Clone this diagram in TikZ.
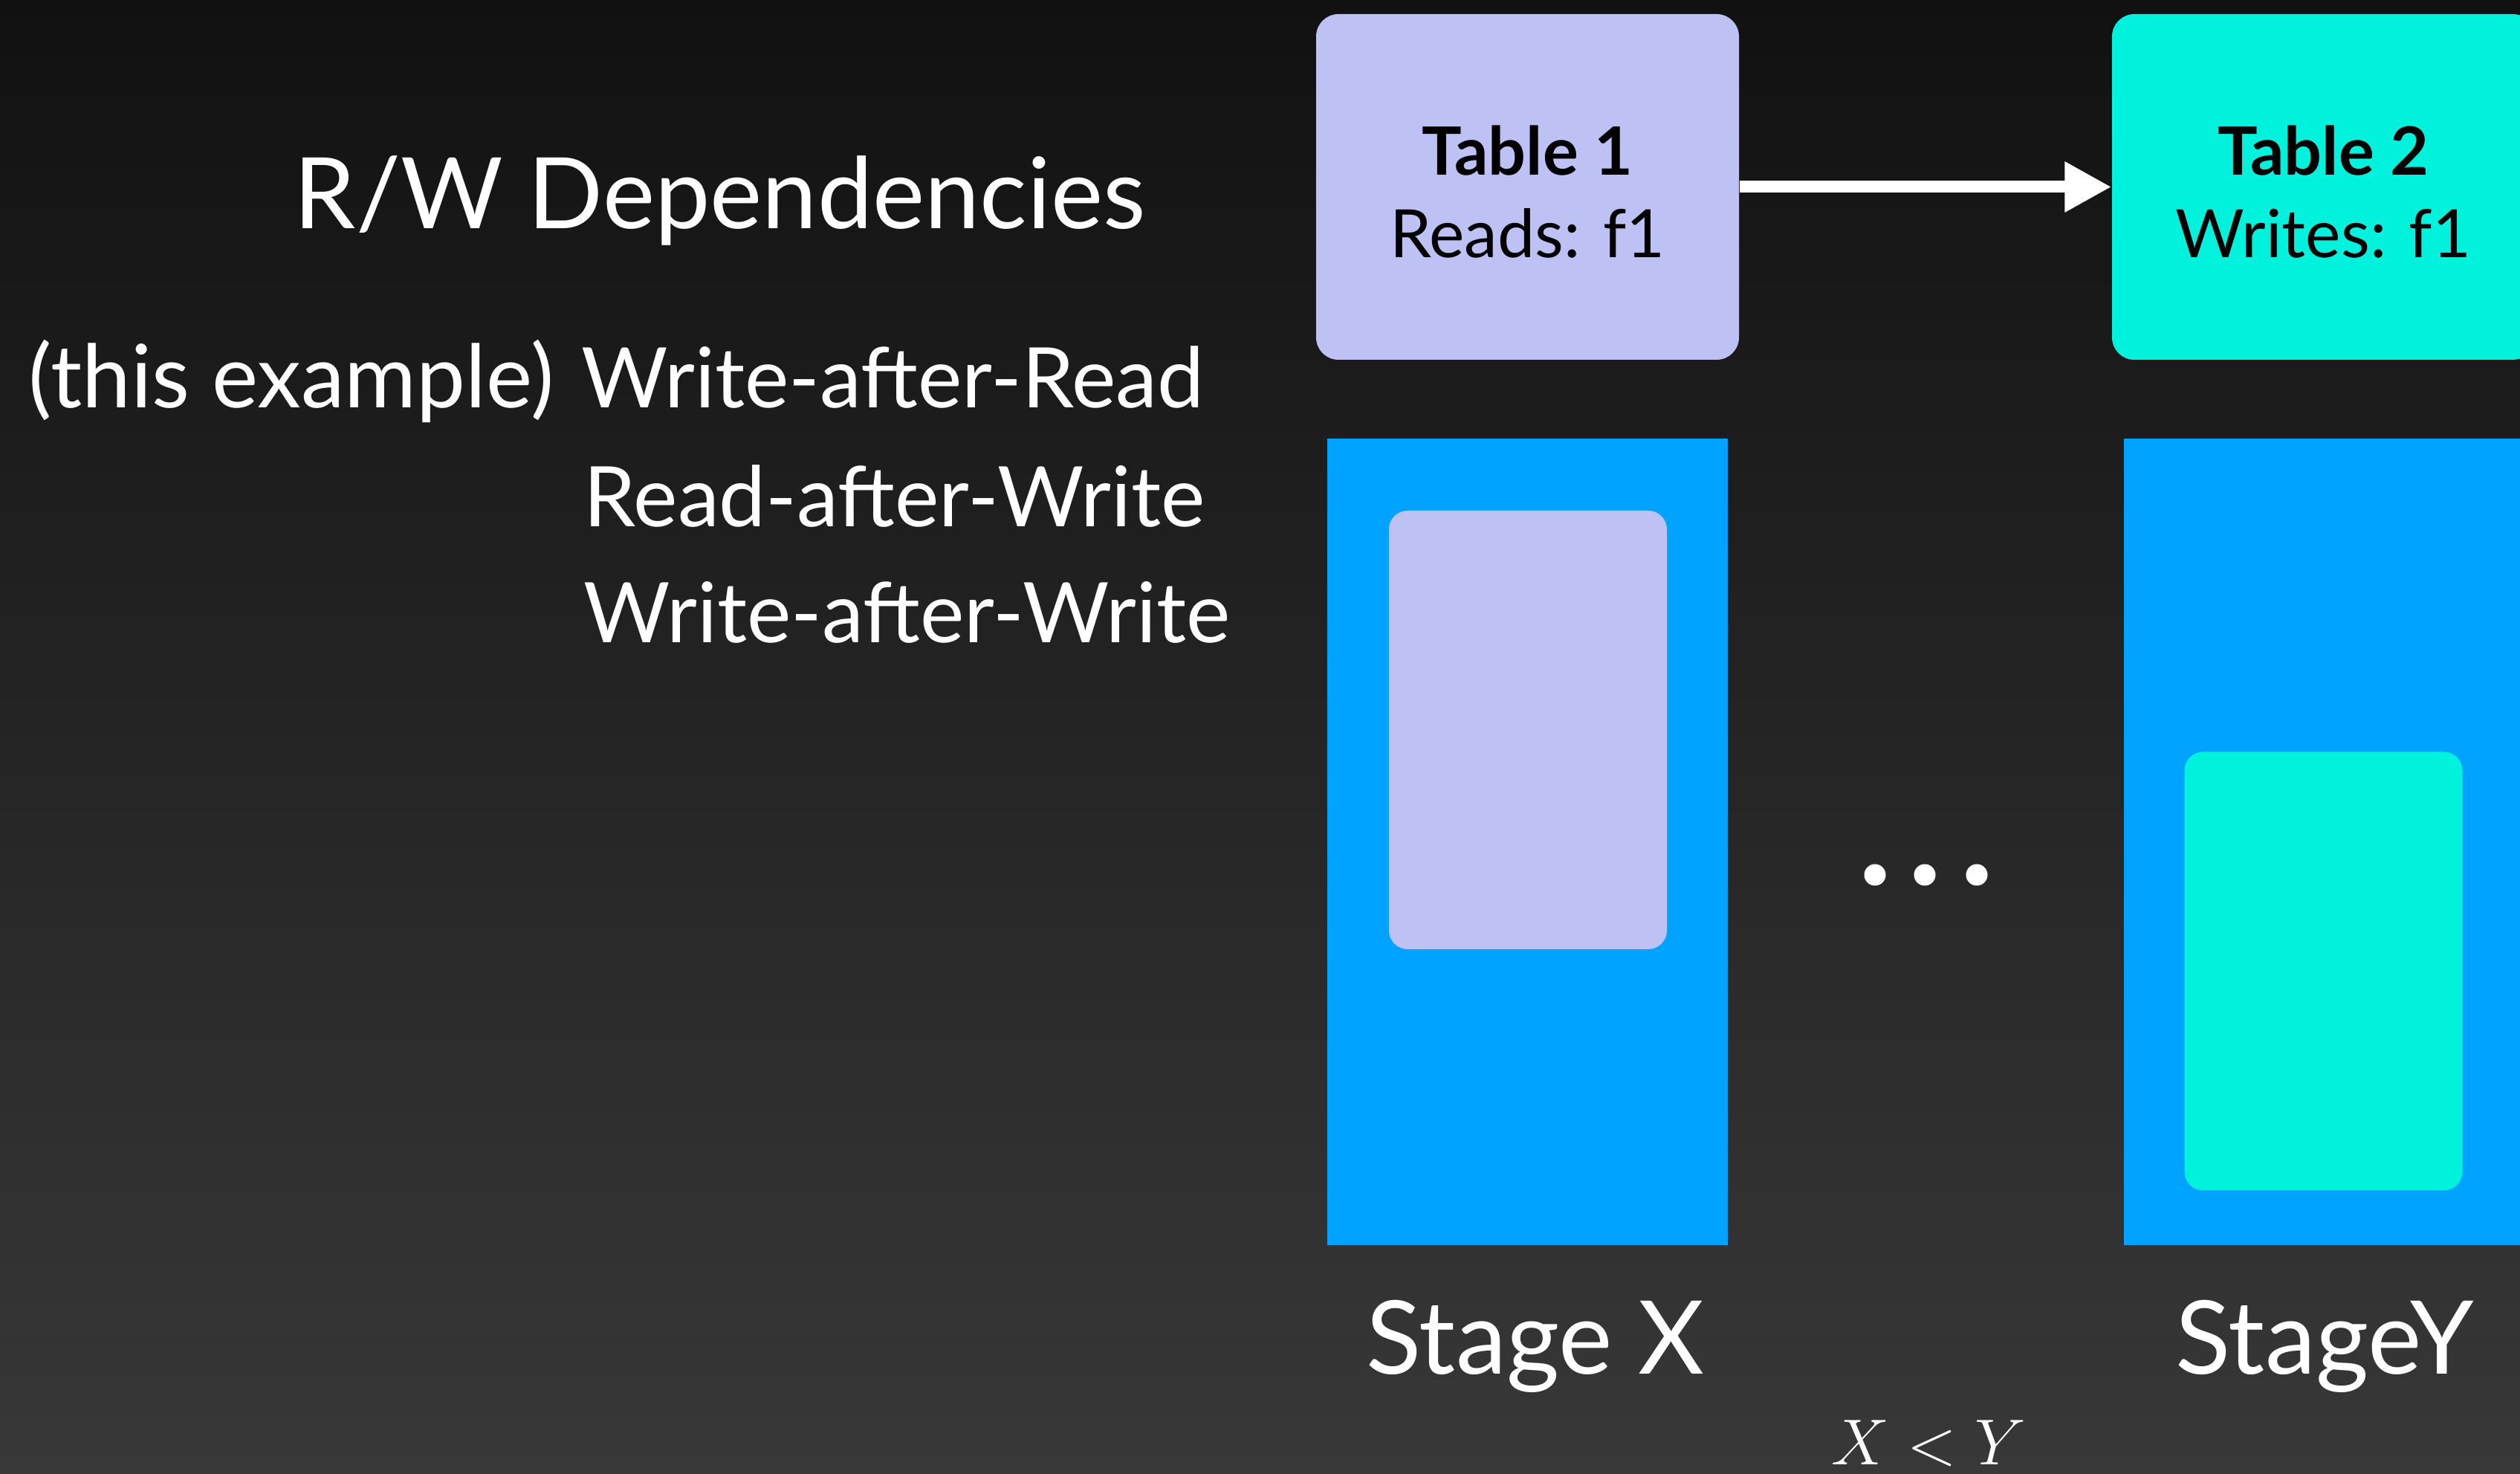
\documentclass[tikz,border=0pt]{standalone}
\usepackage{fontspec}
\setmainfont{Lato}
\usepackage{tikz}
\usetikzlibrary{arrows.meta,positioning}
\definecolor{bgtop}{RGB}{17,17,17}
\definecolor{bgbot}{RGB}{56,56,56}
\definecolor{stageblue}{RGB}{0,163,255}
\definecolor{lavender}{RGB}{190,193,244}
\definecolor{tealish}{RGB}{0,242,220}
\begin{document}
\begin{tikzpicture}[
  tablebox/.style={rounded corners=0.3cm,minimum width=5.69cm,minimum height=4.65cm,align=center,inner sep=0pt,
    font=\fontsize{25.5}{31.6}\selectfont},
  stagebox/.style={fill=stageblue,minimum width=5.39cm,minimum height=10.85cm,inner sep=0pt},
  usebox/.style={rounded corners=0.25cm,minimum width=3.74cm,minimum height=5.9cm,inner sep=0pt},
  stagelabel/.style={text=white,anchor=base,inner sep=0pt,font=\fontsize{39}{42}\selectfont},
  deplabel/.style={text=white,anchor=base west,inner sep=0pt,font=\fontsize{32}{36}\selectfont},
  dot/.style={circle,fill=white,minimum size=0.29cm,inner sep=0pt}]
\clip(0,0)rectangle(33.91,19.83);
\shade[top color=bgtop,bottom color=bgbot](0,0)rectangle(33.91,19.83);
% left column
\node[text=white,anchor=base east,inner sep=0pt,font=\fontsize{37.8}{42}\selectfont](title)at(15.42,16.75){R/W Dependencies};
\node[deplabel](war)at(7.82,14.34){Write-after-Read};
\node[text=white,anchor=base east,inner sep=0pt,font=\fontsize{33.5}{36}\selectfont](this)at(7.46,14.34){(this example)};
\node[deplabel](raw)at(7.85,12.74){Read-after-Write};
\node[deplabel](waw)at(7.85,11.18){Write-after-Write};
% tables
\node[tablebox,fill=lavender](t1)at(20.555,17.315){};
\node[align=center,font=\fontsize{25.5}{31.6}\selectfont](t1txt)at([yshift=-0.07cm]t1.center){\textbf{Table 1}\\Reads: f1};
\node[tablebox,fill=tealish](t2)at(31.265,17.315){};
\node[align=center,font=\fontsize{25.5}{31.6}\selectfont](t2txt)at([yshift=-0.07cm]t2.center){\textbf{Table 2}\\Writes: f1};
\draw[white,line width=4.55pt,-{Triangle[length=0.63cm,width=0.64cm]}](t1)--(t2);
% stages
\node[stagebox](sx)at(20.555,8.505){};
\node[stagebox](sy)at(31.275,8.505){};
\node[usebox,fill=lavender](ux)at(20.56,10.01){};
\node[usebox,fill=tealish](uy)at(31.265,6.765){};
\foreach \x[count=\i] in {25.23,25.90,26.60}
  \node[dot](dot\i)at(\x,8.06){};
\node[stagelabel](lx)at(20.66,1.34){Stage X};
\node[stagelabel](ly)at(31.28,1.34){StageY};
\node[text=white,anchor=base,inner sep=0pt,font=\fontsize{33}{33}\selectfont](cmp)at(25.95,0.12){$X<Y$};
\end{tikzpicture}
\end{document}
